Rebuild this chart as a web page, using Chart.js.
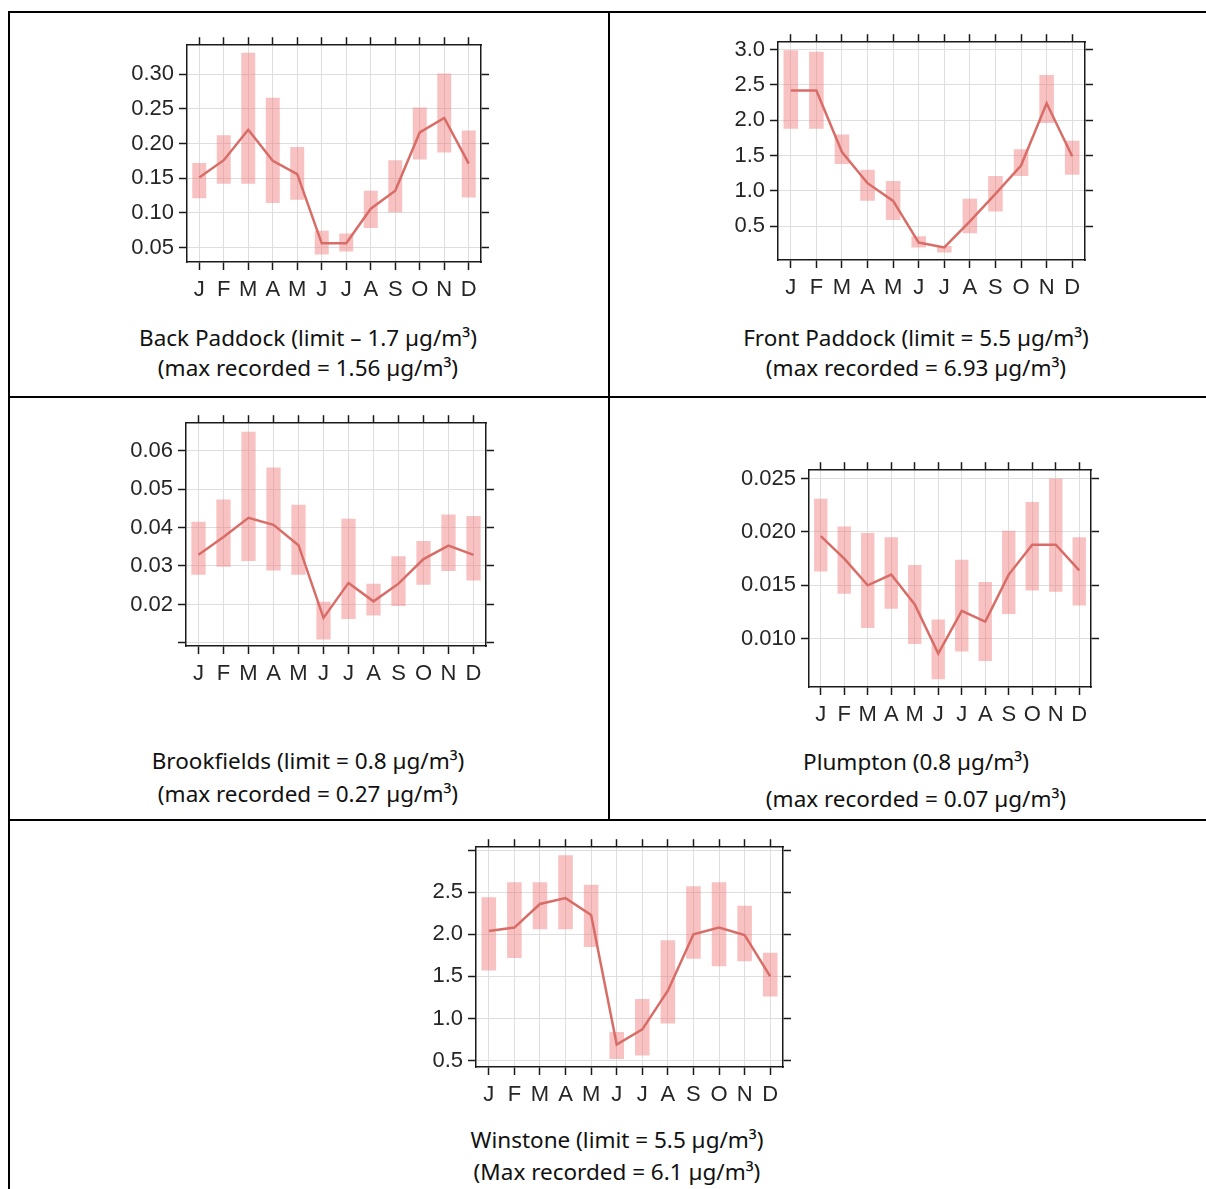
<!DOCTYPE html>
<html>
<head>
<meta charset="utf-8">
<script src="https://cdn.jsdelivr.net/npm/chart.js@4.4.1/dist/chart.umd.min.js"></script>
<style>
  body { margin:0; width:1206px; height:1189px; overflow:hidden; background:#fff; position:relative; font-family:"Noto Sans", sans-serif; }
  .rule { position:absolute; background:#000; }
  .cap { position:absolute; text-align:center; font-size:22.5px; color:#111; height:30px; line-height:30px; white-space:nowrap; }
</style>
</head>
<body>
<!-- table borders -->
<div class="rule" style="left:8px;top:11px;width:1240px;height:2px"></div>
<div class="rule" style="left:8px;top:396px;width:1240px;height:2px"></div>
<div class="rule" style="left:8px;top:819px;width:1240px;height:2px"></div>
<div class="rule" style="left:8px;top:11px;width:2px;height:1200px"></div>
<div class="rule" style="left:608px;top:11px;width:2px;height:810px"></div>

<div class="cap" style="left:8px;width:600px;top:323px">Back Paddock (limit – 1.7 µg/m³)</div>
<div class="cap" style="left:8px;width:600px;top:353px">(max recorded = 1.56 µg/m³)</div>
<div class="cap" style="left:610px;width:612px;top:323px">Front Paddock (limit = 5.5 µg/m³)</div>
<div class="cap" style="left:610px;width:612px;top:353px">(max recorded = 6.93 µg/m³)</div>
<div class="cap" style="left:8px;width:600px;top:746px">Brookfields (limit = 0.8 µg/m³)</div>
<div class="cap" style="left:8px;width:600px;top:779px">(max recorded = 0.27 µg/m³)</div>
<div class="cap" style="left:610px;width:612px;top:747px">Plumpton (0.8 µg/m³)</div>
<div class="cap" style="left:610px;width:612px;top:784px">(max recorded = 0.07 µg/m³)</div>
<div class="cap" style="left:8px;width:1218px;top:1125px">Winstone (limit = 5.5 µg/m³)</div>
<div class="cap" style="left:8px;width:1218px;top:1157px">(Max recorded = 6.1 µg/m³)</div>

<script>
// months
const months = ['J','F','M','A','M','J','J','A','S','O','N','D'];

// Back Paddock
const backMean = [0.151,0.176,0.220,0.175,0.156,0.056,0.056,0.106,0.132,0.216,0.237,0.171];
const backLow  = [0.121,0.142,0.142,0.114,0.119,0.040,0.044,0.078,0.101,0.177,0.187,0.122];
const backHigh = [0.172,0.212,0.331,0.266,0.195,0.074,0.070,0.132,0.176,0.252,0.301,0.219];
const backTicks = [0.05,0.10,0.15,0.20,0.25,0.30];
const backTickLabels = ['0.05','0.10','0.15','0.20','0.25','0.30'];

// Front Paddock
const frontMean = [2.42,2.42,1.55,1.11,0.86,0.27,0.20,0.57,0.96,1.36,2.24,1.49];
const frontLow  = [1.88,1.88,1.38,0.86,0.59,0.20,0.13,0.40,0.71,1.21,1.96,1.23];
const frontHigh = [2.99,2.97,1.80,1.30,1.14,0.36,0.22,0.89,1.21,1.59,2.64,1.71];
const frontTicks = [0.5,1.0,1.5,2.0,2.5,3.0];
const frontTickLabels = ['0.5','1.0','1.5','2.0','2.5','3.0'];

// Brookfields
const brookMean = [0.0329,0.0375,0.0425,0.0407,0.0354,0.0165,0.0256,0.0208,0.0254,0.0318,0.0353,0.0329];
const brookLow  = [0.0277,0.0298,0.0313,0.0288,0.0277,0.0109,0.0162,0.0171,0.0196,0.0251,0.0287,0.0262];
const brookHigh = [0.0415,0.0473,0.0649,0.0556,0.0459,0.0207,0.0423,0.0254,0.0325,0.0365,0.0434,0.0430];
const brookTicks = [0.01,0.02,0.03,0.04,0.05,0.06];
const brookTickLabels = ['','0.02','0.03','0.04','0.05','0.06'];

// Plumpton
const plumMean = [0.0196,0.0175,0.0150,0.0160,0.0132,0.0086,0.0126,0.0116,0.0160,0.0188,0.0188,0.0164];
const plumLow  = [0.0163,0.0142,0.0110,0.0128,0.0095,0.0062,0.0088,0.0079,0.0123,0.0145,0.0144,0.0131];
const plumHigh = [0.0231,0.0205,0.0199,0.0195,0.0169,0.0118,0.0174,0.0153,0.0201,0.0228,0.0250,0.0195];
const plumTicks = [0.010,0.015,0.020,0.025];
const plumTickLabels = ['0.010','0.015','0.020','0.025'];

// Winstone
const winMean = [2.04,2.08,2.36,2.43,2.23,0.69,0.87,1.33,2.00,2.08,1.99,1.50];
const winLow  = [1.57,1.72,2.06,2.06,1.85,0.52,0.56,0.94,1.71,1.62,1.68,1.26];
const winHigh = [2.44,2.62,2.62,2.94,2.59,0.84,1.23,1.93,2.57,2.62,2.34,1.78];
const winTicks = [0.5,1.0,1.5,2.0,2.5,3.0];
const winTickLabels = ['0.5','1.0','1.5','2.0','2.5',''];

// frame position of each panel on the page + y range
const panels = [
  {left:187, top:37,  right:481,  bottom:262,  min:0.029,  max:0.342,  mean:backMean,  low:backLow,  high:backHigh,  ticks:backTicks,  labels:backTickLabels},
  {left:778, top:34,  right:1085, bottom:260,  min:0.023,  max:3.105,  mean:frontMean, low:frontLow, high:frontHigh, ticks:frontTicks, labels:frontTickLabels},
  {left:186, top:415, right:486,  bottom:646,  min:0.0092, max:0.0671, mean:brookMean, low:brookLow, high:brookHigh, ticks:brookTicks, labels:brookTickLabels},
  {left:809, top:462, right:1091, bottom:687,  min:0.00547,max:0.02578,mean:plumMean,  low:plumLow,  high:plumHigh,  ticks:plumTicks,  labels:plumTickLabels},
  {left:476, top:839, right:783,  bottom:1067, min:0.4235, max:3.035,  mean:winMean,   low:winLow,   high:winHigh,   ticks:winTicks,   labels:winTickLabels}
];

function drawPanel(p) {
  const LW = 90, TH = 10, RW = 14, BH = 50;
  const cv = document.createElement('canvas');
  const w = p.right - p.left + LW + RW, h = p.bottom - p.top + TH + BH;
  cv.width = w; cv.height = h;
  cv.style.cssText = 'position:absolute;left:' + (p.left - LW) + 'px;top:' + (p.top - TH) + 'px;width:' + w + 'px;height:' + h + 'px';
  document.body.appendChild(cv);

  const tickFont = {family:'"Liberation Sans", Arial, sans-serif', size:22};
  const frame = {display:true, color:'#1a1a1a', width:1.5};
  const gridCol = '#dedede', tickCol = '#1a1a1a';
  const setY = s => { s.ticks = p.ticks.map(v => ({value:v})); };

  new Chart(cv, {
    data: {
      labels: months,
      datasets: [
        {type:'line', data:p.mean, borderColor:'#d86d68', borderWidth:2.5, pointRadius:0, tension:0, order:0},
        {type:'bar', data:p.low.map((v, i) => [v, p.high[i]]), backgroundColor:'rgba(241,120,120,0.45)',
         borderWidth:0, barPercentage:0.57, categoryPercentage:1, order:1}
      ]
    },
    options: {
      responsive:false, animation:false, devicePixelRatio:1,
      layout:{padding:0, autoPadding:false},
      plugins:{legend:{display:false}, tooltip:{enabled:false}},
      scales: {
        x: {type:'category', position:'bottom', offset:true, border:frame,
            grid:{offset:false, color:gridCol, tickColor:tickCol, tickLength:8, tickWidth:1.5},
            ticks:{font:tickFont, color:'#262626', padding:7, maxRotation:0, autoSkip:false},
            afterFit: s => { s.height = BH; }},
        x2: {type:'category', position:'top', labels:months, offset:true, border:frame,
            grid:{offset:false, drawOnChartArea:false, tickColor:tickCol, tickLength:8, tickWidth:1.5},
            ticks:{display:false},
            afterFit: s => { s.height = TH; }},
        y: {type:'linear', position:'left', min:p.min, max:p.max, afterBuildTicks:setY, border:frame,
            grid:{color:gridCol, tickColor:tickCol, tickLength:8, tickWidth:1.5},
            ticks:{font:tickFont, color:'#262626', padding:5, callback:(v, i) => p.labels[i]},
            afterFit: s => { s.width = LW; }},
        y2: {type:'linear', position:'right', min:p.min, max:p.max, afterBuildTicks:setY, border:frame,
            grid:{drawOnChartArea:false, tickColor:tickCol, tickLength:8, tickWidth:1.5},
            ticks:{display:false},
            afterFit: s => { s.width = RW; }}
      }
    }
  });
}

panels.forEach(drawPanel);
</script>
</body>
</html>
